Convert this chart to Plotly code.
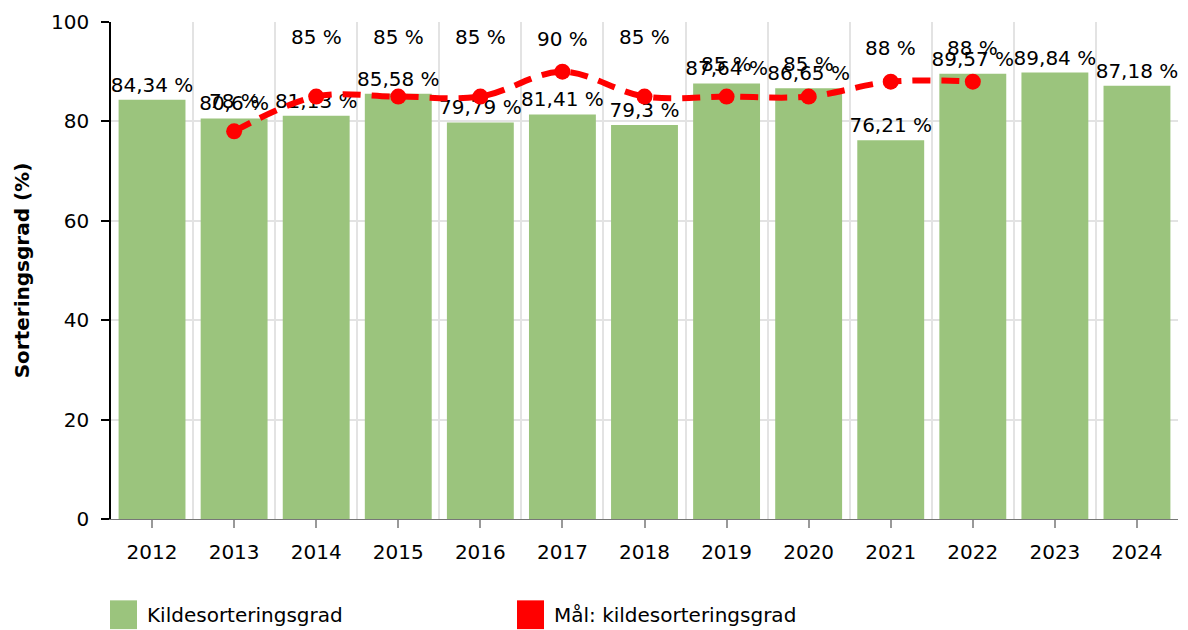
import plotly.graph_objects as go

years = [2012, 2013, 2014, 2015, 2016, 2017, 2018, 2019, 2020, 2021, 2022, 2023, 2024]
sorting_rate = [84.34, 80.6, 81.13, 85.58, 79.79, 81.41, 79.3, 87.64, 86.65, 76.21, 89.57, 89.84, 87.18]
target_years = [2013, 2014, 2015, 2016, 2017, 2018, 2019, 2020, 2021, 2022]
target_rate = [78, 85, 85, 85, 90, 85, 85, 85, 88, 88]
# vertical pixel offsets of the target labels (as in the reference)
target_label_shift = [30, 60, 60, 60, 33, 60, 33, 33, 34, 34]

series_names = ["Kildesorteringsgrad", "Mål: kildesorteringsgrad"]
y_title = "Sorteringsgrad (%)"


def fmt(v):
    s = ("%.2f" % v).rstrip("0").rstrip(".")
    return s.replace(".", ",") + " %"


FONT = "DejaVu Sans, Verdana, sans-serif"
GREEN = "#9BC47D"
RED = "#FF0000"

W, H = 1188, 630
L, R, T, B = 111, 10, 18, 111
PW, PH = W - L - R, H - T - B

fig = go.Figure()
fig.add_trace(go.Bar(
    x=years, y=sorting_rate, width=0.815,
    marker=dict(color=GREEN, line=dict(width=0)),
    text=[fmt(v) for v in sorting_rate], textposition="outside",
    textfont=dict(family=FONT, size=20, color="black"),
    constraintext="none", cliponaxis=False,
    name=series_names[0], showlegend=False,
))
fig.add_trace(go.Scatter(
    x=target_years, y=target_rate, mode="lines+markers",
    line=dict(color=RED, width=6, dash="18px,11px", shape="spline", smoothing=1),
    marker=dict(color=RED, size=16),
    name=series_names[1], showlegend=False, cliponaxis=False,
))

annotations = []
for xv, yv, sh in zip(target_years, target_rate, target_label_shift):
    annotations.append(dict(
        x=xv, y=yv, xref="x", yref="y", text=fmt(yv), showarrow=False,
        yshift=sh, font=dict(family=FONT, size=20, color="black"),
        xanchor="center", yanchor="middle",
    ))


def px(xp):
    return (xp - L) / PW


def py(yp):
    return (H - B - yp) / PH


# legend (drawn)
legend_items = [(110, 145, GREEN, series_names[0]), (517, 552, RED, series_names[1])]
shapes = []
for x0, tx, col, name in legend_items:
    shapes.append(dict(type="rect", xref="paper", yref="paper",
                       x0=px(x0), x1=px(x0 + 27), y0=py(601), y1=py(630),
                       fillcolor=col, line=dict(width=0)))
    annotations.append(dict(x=px(tx), y=py(616), xref="paper", yref="paper",
                            text=name, showarrow=False, xanchor="left", yanchor="middle",
                            font=dict(family=FONT, size=20, color="black")))

fig.update_layout(
    width=W, height=H,
    margin=dict(l=L, r=R, t=T, b=B, pad=0),
    paper_bgcolor="white", plot_bgcolor="white",
    font=dict(family=FONT, size=20, color="black"),
    annotations=annotations, shapes=shapes,
    bargap=0.18,
)
fig.update_xaxes(
    range=[2011.5, 2024.5], tickmode="array", tickvals=years,
    ticktext=[str(y) for y in years], showgrid=False,
    ticks="outside", ticklen=8, tickcolor="#999999", tickwidth=1.5,
    ticklabelstandoff=7,
    showline=True, linecolor="#777777", linewidth=1,
    tickfont=dict(family=FONT, size=20, color="black"),
    minor=dict(tickmode="array", tickvals=[y + 0.5 for y in years[:-1]] + [2024.5],
               showgrid=True, gridcolor="#E3E3E3", gridwidth=2, ticks=""),
    zeroline=False,
)
fig.update_yaxes(
    range=[0, 100], tickmode="array", tickvals=[0, 20, 40, 60, 80, 100],
    showgrid=True, gridcolor="#E3E3E3", gridwidth=2,
    ticks="outside", ticklen=8, tickcolor="black", tickwidth=1.5,
    ticklabelstandoff=8,
    showline=True, linecolor="black", linewidth=1.5,
    tickfont=dict(family=FONT, size=20, color="black"),
    title=dict(text="<b>" + y_title + "</b>", font=dict(family=FONT, size=20, color="black"), standoff=16),
    zeroline=False,
)

fig.write_html(
    "out.html",
    config={"displayModeBar": False},
    post_script="document.body.style.margin='0';document.body.style.padding='0';"
                "document.body.style.overflow='hidden';",
)
